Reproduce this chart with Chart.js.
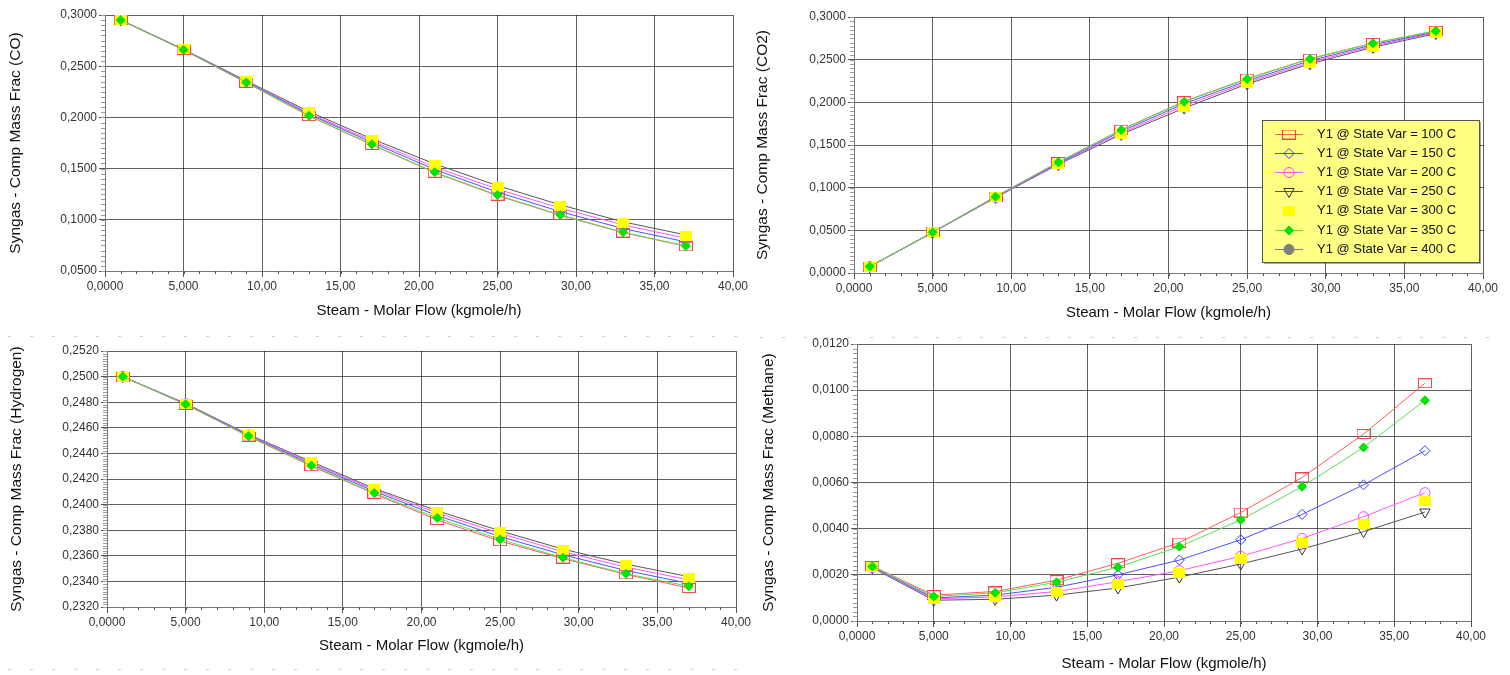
<!DOCTYPE html>
<html><head><meta charset="utf-8">
<script src="https://cdn.jsdelivr.net/npm/chart.js@4.4.1/dist/chart.umd.min.js"></script>
<style>
html,body{margin:0;padding:0;background:#fff;width:1510px;height:675px;overflow:hidden;}
canvas{position:absolute;}
.sep{position:absolute;height:1px;background:repeating-linear-gradient(90deg,#cfcfcf 0 3px,transparent 3px 22px);}
</style></head><body>
<div class="sep" style="left:8px;top:336px;width:745px"></div>
<div class="sep" style="left:760px;top:337px;width:730px"></div>
<div class="sep" style="left:8px;top:669px;width:745px"></div>
<canvas id="c1" width="755" height="330" style="left:0;top:0"></canvas>
<canvas id="c2" width="760" height="330" style="left:750px;top:0"></canvas>
<canvas id="c3" width="755" height="342" style="left:0;top:333px"></canvas>
<canvas id="c4" width="760" height="342" style="left:750px;top:333px"></canvas>
<script>
// ---------------- DATA ----------------
const steamFlow = [1, 5, 9, 13, 17, 21, 25, 29, 33, 37];
const seriesNames = ['Y1 @ State Var = 100 C','Y1 @ State Var = 150 C','Y1 @ State Var = 200 C','Y1 @ State Var = 250 C','Y1 @ State Var = 300 C','Y1 @ State Var = 350 C','Y1 @ State Var = 400 C'];
const xTickLabels = ['0,0000','5,000','10,00','15,00','20,00','25,00','30,00','35,00','40,00'];
const coTickLabels = ['0,0500','0,1000','0,1500','0,2000','0,2500','0,3000'];
const co2TickLabels = ['0,0000','0,0500','0,1000','0,1500','0,2000','0,2500','0,3000'];
const h2TickLabels = ['0,2320','0,2340','0,2360','0,2380','0,2400','0,2420','0,2440','0,2460','0,2480','0,2500','0,2520'];
const ch4TickLabels = ['0,0000','0,0020','0,0040','0,0060','0,0080','0,0100','0,0120'];
const xTitle = 'Steam - Molar Flow (kgmole/h)';

// CO mass fraction
const co100 = [0.2950, 0.2658, 0.2338, 0.2013, 0.1732, 0.1460, 0.1236, 0.1044, 0.0875, 0.0741];
const co150 = [0.2951, 0.2662, 0.2347, 0.2030, 0.1756, 0.1490, 0.1270, 0.1080, 0.0914, 0.0785];
const co200 = [0.2951, 0.2663, 0.2352, 0.2040, 0.1772, 0.1515, 0.1300, 0.1113, 0.0950, 0.0820];
const co250 = [0.2952, 0.2665, 0.2357, 0.2056, 0.1790, 0.1546, 0.1333, 0.1146, 0.0980, 0.0852];
const co300 = [0.2951, 0.2664, 0.2355, 0.2053, 0.1784, 0.1538, 0.1324, 0.1136, 0.0968, 0.0838];
const co350 = [0.2950, 0.2660, 0.2341, 0.2017, 0.1737, 0.1465, 0.1242, 0.1048, 0.0879, 0.0745];
const co400 = [];

// CO2 mass fraction
const co2_100 = [0.0076, 0.0478, 0.0896, 0.1300, 0.1680, 0.2012, 0.2278, 0.2512, 0.2695, 0.2838];
const co2_150 = [0.0075, 0.0476, 0.0890, 0.1288, 0.1660, 0.1985, 0.2252, 0.2488, 0.2675, 0.2825];
const co2_200 = [0.0074, 0.0475, 0.0886, 0.1279, 0.1640, 0.1960, 0.2232, 0.2468, 0.2660, 0.2815];
const co2_250 = [0.0074, 0.0474, 0.0884, 0.1272, 0.1625, 0.1932, 0.2215, 0.2450, 0.2645, 0.2805];
const co2_300 = [0.0074, 0.0475, 0.0885, 0.1275, 0.1630, 0.1940, 0.2222, 0.2458, 0.2652, 0.2810];
const co2_350 = [0.0075, 0.0477, 0.0894, 0.1297, 0.1676, 0.2007, 0.2273, 0.2508, 0.2692, 0.2836];
const co2_400 = [];

// Hydrogen mass fraction
const h2_100 = [0.2500, 0.24782, 0.24532, 0.24300, 0.24085, 0.23880, 0.23715, 0.23578, 0.23455, 0.23348];
const h2_150 = [0.2500, 0.24786, 0.24540, 0.24315, 0.24103, 0.23915, 0.23750, 0.23608, 0.23485, 0.23385];
const h2_200 = [0.2500, 0.24788, 0.24545, 0.24325, 0.24115, 0.23935, 0.23775, 0.23632, 0.23512, 0.23412];
const h2_250 = [0.2500, 0.24790, 0.24548, 0.24335, 0.24125, 0.23952, 0.23795, 0.23652, 0.23535, 0.23437];
const h2_300 = [0.2500, 0.24788, 0.24545, 0.24330, 0.24120, 0.23945, 0.23786, 0.23643, 0.23526, 0.23427];
const h2_350 = [0.2500, 0.24784, 0.24535, 0.24305, 0.24090, 0.23895, 0.23728, 0.23585, 0.23460, 0.23362];
const h2_400 = [];

// Methane mass fraction
const ch4_100 = [0.00238, 0.00112, 0.00128, 0.00177, 0.00250, 0.00340, 0.00470, 0.00622, 0.00810, 0.01030];
const ch4_150 = [0.00234, 0.00100, 0.00112, 0.00146, 0.00200, 0.00264, 0.00352, 0.00462, 0.00590, 0.00738];
const ch4_200 = [0.00232, 0.00096, 0.00104, 0.00128, 0.00170, 0.00218, 0.00280, 0.00358, 0.00452, 0.00556];
const ch4_250 = [0.00230, 0.00090, 0.00094, 0.00112, 0.00143, 0.00190, 0.00247, 0.00312, 0.00387, 0.00472];
const ch4_300 = [0.00232, 0.00095, 0.00102, 0.00124, 0.00160, 0.00206, 0.00268, 0.00338, 0.00420, 0.00521];
const ch4_350 = [0.00236, 0.00106, 0.00122, 0.00168, 0.00233, 0.00322, 0.00438, 0.00582, 0.00752, 0.00956];
const ch4_400 = [];

// ---------------- STYLES ----------------
const FONT = "'Liberation Sans', Arial, sans-serif";
function rectImage(w, h, stroke, fill) {
  const c = document.createElement('canvas'); c.width = w; c.height = h;
  const x = c.getContext('2d');
  if (fill) { x.fillStyle = fill; x.fillRect(0, 0, w, h); }
  if (stroke) { x.strokeStyle = stroke; x.lineWidth = 1; x.strokeRect(0.5, 0.5, w - 1, h - 1); }
  return c;
}
const redRect = rectImage(14, 10, '#ff4040', null);
const yellowRect = rectImage(12, 10, null, '#ffff00');
const styles = [
  {line:'#ff5c5c', ps:redRect, r:6, rot:0, bc:'#ff4040', bg:'rgba(0,0,0,0)', show:true, order:2},
  {line:'#4f4fff', ps:'rectRot', r:5, rot:0, bc:'#3a3aff', bg:'rgba(0,0,0,0)', show:true, order:3},
  {line:'#ff55ff', ps:'circle', r:5, rot:0, bc:'#ff40ff', bg:'rgba(0,0,0,0)', show:true, order:4},
  {line:'#555555', ps:'triangle', r:6, rot:180, bc:'#333333', bg:'rgba(0,0,0,0)', show:true, order:5},
  {line:'#e0e000', ps:yellowRect, r:6, rot:0, bc:'#ffff00', bg:'#ffff00', show:false, order:1},
  {line:'#55e055', ps:'rectRot', r:4.5, rot:0, bc:'#00dd00', bg:'#00e600', show:true, order:0},
  {line:'#808080', ps:'circle', r:5, rot:0, bc:'#777777', bg:'#808080', show:true, order:6}
];

function makeDatasets(seriesList) {
  return seriesList.map((vals, i) => {
    const s = styles[i];
    return {
      label: seriesNames[i],
      data: vals.map((v, k) => ({x: steamFlow[k], y: v})),
      borderColor: s.line, borderWidth: 1, showLine: s.show,
      pointStyle: s.ps, pointRadius: s.r, pointRotation: s.rot,
      pointBorderColor: s.bc, pointBackgroundColor: s.bg, pointBorderWidth: 1,
      order: s.order, tension: 0, fill: false
    };
  });
}
function labelValues(labels) { return labels.map(l => parseFloat(l.replace(',', '.'))); }

const minorTicks = {
  id: 'minorTicks',
  beforeDatasetsDraw(chart, args, opts) {
    const ctx = chart.ctx, xs = chart.scales.x, ys = chart.scales.y, a = chart.chartArea;
    ctx.save(); ctx.lineWidth = 1;
    ctx.strokeStyle = '#9a9a9a';
    let n = Math.round((ys.max - ys.min) / opts.y);
    for (let i = 0; i <= n; i++) {
      const py = Math.round(ys.getPixelForValue(ys.min + i * opts.y)) + 0.5;
      ctx.beginPath(); ctx.moveTo(a.left - 4, py); ctx.lineTo(a.left, py); ctx.stroke();
    }
    ctx.strokeStyle = '#555';
    n = Math.round((xs.max - xs.min) / opts.x);
    for (let i = 0; i <= n; i++) {
      const px = Math.round(xs.getPixelForValue(xs.min + i * opts.x)) + 0.5;
      ctx.beginPath(); ctx.moveTo(px, a.bottom); ctx.lineTo(px, a.bottom + 3); ctx.stroke();
    }
    ctx.restore();
  }
};

function drawMarker(ctx, s, x, y) {
  ctx.save();
  ctx.strokeStyle = s.bc; ctx.fillStyle = s.bg; ctx.lineWidth = 1;
  if (Chart.helpers && Chart.helpers.drawPoint) {
    Chart.helpers.drawPoint(ctx, {pointStyle: s.ps, rotation: s.rot, radius: s.r, borderWidth: 1}, x, y);
  }
  ctx.restore();
}
const boxLegend = {
  id: 'boxLegend',
  afterDraw(chart, args, o) {
    if (!o || !o.show) return;
    const ctx = chart.ctx;
    ctx.save();
    ctx.fillStyle = 'rgba(0,0,0,0.35)'; ctx.fillRect(o.x + 2, o.y + 2, o.w, o.h);
    ctx.fillStyle = '#ffff84'; ctx.fillRect(o.x, o.y, o.w, o.h);
    ctx.strokeStyle = '#555'; ctx.lineWidth = 1; ctx.strokeRect(o.x + 0.5, o.y + 0.5, o.w, o.h);
    chart.data.datasets.forEach((ds, i) => {
      const s = styles[i];
      const ry = Math.round(o.firstY + i * o.rowH) + 0.5;
      if (s.show) {
        ctx.strokeStyle = s.line; ctx.lineWidth = 1;
        ctx.beginPath(); ctx.moveTo(o.x0, ry); ctx.lineTo(o.x1, ry); ctx.stroke();
      }
      drawMarker(ctx, s, (o.x0 + o.x1) / 2, ry);
      ctx.fillStyle = '#111'; ctx.font = '13px ' + FONT; ctx.textBaseline = 'middle'; ctx.textAlign = 'left';
      ctx.fillText(ds.label, o.textX, ry);
    });
    ctx.restore();
  }
};

function makeChart(id, series, yLabels, yTitle, L, minorY, legend) {
  const yVals = labelValues(yLabels), xVals = labelValues(xTickLabels);
  return new Chart(document.getElementById(id), {
    type: 'line',
    data: {datasets: makeDatasets(series)},
    plugins: [minorTicks, boxLegend],
    options: {
      responsive: false, animation: false, devicePixelRatio: 1,
      layout: {padding: {left: 0, top: L.pt, right: L.pr, bottom: 0}},
      plugins: {legend: {display: false}, tooltip: {enabled: false},
        minorTicks: {x: 1, y: minorY}, boxLegend: legend || {show: false}},
      scales: {
        x: {
          type: 'linear', min: xVals[0], max: xVals[xVals.length - 1],
          afterBuildTicks: s => { s.ticks = xVals.map(v => ({value: v})); },
          afterFit: s => { s.height = L.xh; },
          ticks: {autoSkip: false, maxRotation: 0, padding: 2, color: '#333', font: {family: FONT, size: 12},
            callback: (v, i) => xTickLabels[i]},
          grid: {color: 'rgba(0,0,0,0.62)', lineWidth: 1, tickLength: 6, tickColor: '#555'},
          border: {display: true, color: '#777'},
          title: {display: true, text: xTitle, color: '#111', font: {family: FONT, size: 15}, padding: {top: 0, bottom: L.xtp}}
        },
        y: {
          type: 'linear', min: yVals[0], max: yVals[yVals.length - 1],
          afterBuildTicks: s => { s.ticks = yVals.map(v => ({value: v})); },
          afterFit: s => { s.width = L.yw; },
          ticks: {autoSkip: false, padding: 2, color: '#333', font: {family: FONT, size: 12},
            callback: (v, i) => yLabels[i]},
          grid: {color: 'rgba(0,0,0,0.62)', lineWidth: 1, tickLength: 6, tickColor: '#555'},
          border: {display: true, color: '#777'},
          title: {display: true, text: yTitle, color: '#111', font: {family: FONT, size: 15.5}, padding: {top: L.ytp, bottom: 0}}
        }
      }
    }
  });
}

makeChart('c1', [co100, co150, co200, co250, co300, co350, co400], coTickLabels,
  'Syngas - Comp Mass Frac (CO)', {pt: 15, pr: 22, xh: 59, yw: 105, xtp: 10, ytp: 6}, 0.005);
makeChart('c2', [co2_100, co2_150, co2_200, co2_250, co2_300, co2_350, co2_400], co2TickLabels,
  'Syngas - Comp Mass Frac (CO2)', {pt: 17, pr: 27, xh: 57, yw: 104, xtp: 8, ytp: 3}, 0.005,
  {show: true, x: 512, y: 120, w: 217, h: 142, firstY: 133.5, rowH: 19.2, x0: 525, x1: 553, textX: 567});
makeChart('c3', [h2_100, h2_150, h2_200, h2_250, h2_300, h2_350, h2_400], h2TickLabels,
  'Syngas - Comp Mass Frac (Hydrogen)', {pt: 18, pr: 19, xh: 68, yw: 107, xtp: 20, ytp: 7}, 0.0002);
makeChart('c4', [ch4_100, ch4_150, ch4_200, ch4_250, ch4_300, ch4_350, ch4_400], ch4TickLabels,
  'Syngas - Comp Mass Frac (Methane)', {pt: 11, pr: 39, xh: 54, yw: 107, xtp: 2, ytp: 9}, 0.0002);
</script>
</body></html>
